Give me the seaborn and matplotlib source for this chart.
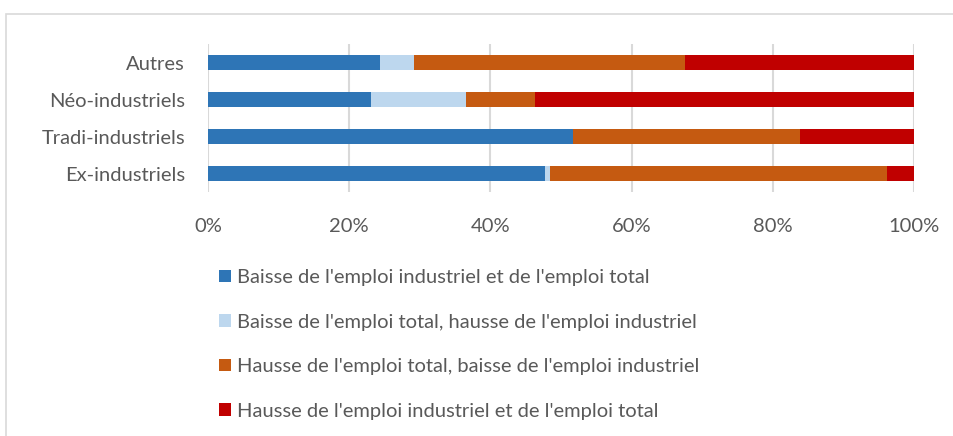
import matplotlib
matplotlib.use("Agg")
import matplotlib.pyplot as plt
from matplotlib.patches import Patch, Rectangle
import numpy as np
import pandas as pd
import seaborn as sns

# Shares of territories (%) by employment trajectory
categories = ["Autres", "Néo-industriels", "Tradi-industriels", "Ex-industriels"]
series_names = [
    "Baisse de l'emploi industriel et de l'emploi total",
    "Baisse de l'emploi total, hausse de l'emploi industriel",
    "Hausse de l'emploi total, baisse de l'emploi industriel",
    "Hausse de l'emploi industriel et de l'emploi total",
]
baisse_ind_baisse_tot = [24.3, 23.1, 51.7, 47.8]
baisse_tot_hausse_ind = [4.9, 13.5, 0.0, 0.6]
hausse_tot_baisse_ind = [38.4, 9.7, 32.2, 47.8]
hausse_ind_hausse_tot = [32.4, 53.7, 16.1, 3.8]
x_ticks = [0, 20, 40, 60, 80, 100]
x_tick_labels = ["0%", "20%", "40%", "60%", "80%", "100%"]

colors = ["#2E75B6", "#BDD7EE", "#C55A11", "#C00000"]
text_color = "#595959"
grid_color = "#D9D9D9"

sns.set_theme(style="white")
plt.rcParams["font.family"] = ["Lato", "DejaVu Sans"]

values = np.array([baisse_ind_baisse_tot, baisse_tot_hausse_ind,
                   hausse_tot_baisse_ind, hausse_ind_hausse_tot])
cumulative = values.cumsum(axis=0)

fig = plt.figure(figsize=(9.54, 4.36), dpi=100)
ax = fig.add_axes([208 / 954, 1 - 192 / 436, 706 / 954, 148 / 436])

# Stacked bars: draw cumulative totals from the outermost segment inwards
for i in range(len(series_names) - 1, -1, -1):
    df = pd.DataFrame({"categorie": categories, "valeur": cumulative[i]})
    sns.barplot(data=df, x="valeur", y="categorie", order=categories,
                color=colors[i], saturation=1, width=0.4, linewidth=0,
                orient="h", ax=ax, zorder=3)

ax.set_xlim(0, 100)
ax.set_ylim(3.5, -0.5)
ax.set_xticks(x_ticks)
ax.set_xticklabels(x_tick_labels)
ax.set_xlabel("")
ax.set_ylabel("")
ax.xaxis.grid(True, color=grid_color, linewidth=1.5, zorder=0)
ax.yaxis.grid(False)
ax.set_axisbelow(True)
for s in ax.spines.values():
    s.set_visible(False)
ax.tick_params(axis="both", length=0, labelsize=14.5, labelcolor=text_color)
ax.tick_params(axis="x", pad=19)
ax.tick_params(axis="y", pad=16.5)

handles = [Patch(facecolor=c, edgecolor="none") for c in colors]
fig.legend(handles, series_names, loc="upper left",
           bbox_to_anchor=(219 / 954, 1 - 269 / 436), frameon=False,
           fontsize=14.5, labelcolor=text_color, handlelength=0.6,
           handleheight=0.6, handletextpad=0.3, labelspacing=1.37,
           borderpad=0, borderaxespad=0)

# Light chart-area border
fig.add_artist(Rectangle((6 / 954, -0.1), 1.1, (436 - 14) / 436 + 0.1,
                         transform=fig.transFigure, fill=False,
                         edgecolor=grid_color, linewidth=1.2))

fig.savefig("out.png", dpi=100)
